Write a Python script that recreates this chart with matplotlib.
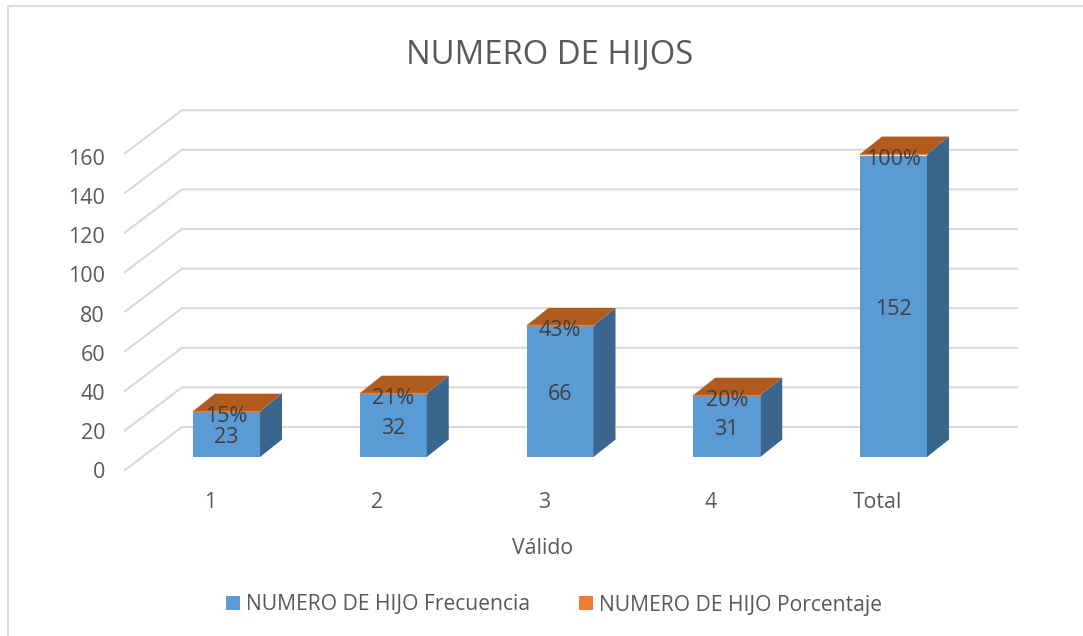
import matplotlib

matplotlib.use("Agg")
import matplotlib.pyplot as plt
from matplotlib.patches import Polygon, Rectangle

categories = ["1", "2", "3", "4", "Total"]
frecuencia = [23, 32, 66, 31, 152]
porcentaje = [0.15, 0.21, 0.43, 0.20, 1.00]
pct_labels = ["15%", "21%", "43%", "20%", "100%"]
y_ticks = [0, 20, 40, 60, 80, 100, 120, 140, 160]

W, H = 1083, 636
X_STEP = 166.75  # px per category
Y_STEP = 1.98  # px per unit
X0, Y0 = 226.5, 457  # px position of category 0, value 0 (bar front)

BLUE = "#5B9BD5"
BLUE_SIDE = "#3A668E"
ORANGE = "#ED7D31"
ORANGE_TOP = "#B25B1F"
GRID = "#D9D9D9"
TEXT = "#595959"
LABEL = "#404040"

plt.rcParams["font.family"] = ["Open Sans", "DejaVu Sans"]

fig = plt.figure(figsize=(W / 100, H / 100), dpi=100)
ax = fig.add_axes([0, 0, 1, 1])
ax.set_xlim((0 - X0) / X_STEP, (W - X0) / X_STEP)
ax.set_ylim((Y0 - H) / Y_STEP, Y0 / Y_STEP)
ax.axis("off")


def dx(px):
    return px / X_STEP


def dy(px):
    return px / Y_STEP


def xpos(px):
    return (px - X0) / X_STEP


# chart frame
ax.plot([xpos(8), xpos(8), xpos(1083)], [dy(Y0 - 636), dy(Y0 - 6), dy(Y0 - 6)],
        color=GRID, lw=1.5, zorder=1)

# walls: each gridline runs from the front edge back then right
for v in y_ticks:
    front_y = v + dy(Y0 - 470)
    back_y = v + dy(Y0 - 427)
    ax.plot([xpos(125), xpos(182), xpos(1017)], [front_y, back_y, back_y],
            color=GRID, lw=1.5, zorder=2, solid_joinstyle="miter")
    # tick labels are spaced a little tighter than the gridlines
    ax.text(xpos(105), dy(Y0 - 473) + v * 0.99, str(v), ha="right", va="center",
            fontsize=15.5, color=TEXT)

half = dx(33.5)
ox, oy = dx(22), dy(17.5)
for i, (f, p) in enumerate(zip(frecuencia, porcentaje)):
    left, right = i - half, i + half
    top = f + p
    ax.add_patch(Rectangle((left, 0), 2 * half, f, fc=BLUE, ec="none", zorder=3))
    ax.add_patch(Polygon([(right, 0), (right + ox, oy), (right + ox, top + oy), (right, top)],
                         fc=BLUE_SIDE, ec="none", zorder=3))
    ax.add_patch(Polygon([(left, top), (left + ox, top + oy), (right + ox, top + oy), (right, top)],
                         fc=ORANGE_TOP, ec="none", zorder=4))
    ax.plot([left, right], [top, top], color=ORANGE, lw=1, zorder=4)
    ax.text(i, f / 2 - dy(3), str(f), ha="center", va="center", fontsize=15.5,
            color=LABEL, zorder=5)
    ax.text(i, top - dy(5), pct_labels[i], ha="center", va="center",
            fontsize=15.5, color=LABEL, zorder=5)
    ax.text(i - dx(16), dy(Y0 - 503), categories[i], ha="center", va="center",
            fontsize=15.3, color=TEXT)

ax.text(xpos(543), dy(Y0 - 549), "Válido", ha="center", va="center", fontsize=15.3, color=TEXT)
ax.text(xpos(550), dy(Y0 - 55), "NUMERO DE HIJOS", ha="center", va="center",
        fontsize=23.6, color=TEXT)

# legend
ax.add_patch(Rectangle((xpos(226), dy(Y0 - 610)), dx(14), dy(14), fc=BLUE, ec="none"))
ax.text(xpos(246), dy(Y0 - 605), "NUMERO DE HIJO Frecuencia", ha="left", va="center",
        fontsize=15.2, color=TEXT)
ax.add_patch(Rectangle((xpos(579), dy(Y0 - 610)), dx(14), dy(14), fc=ORANGE, ec="none"))
ax.text(xpos(599), dy(Y0 - 605), "NUMERO DE HIJO Porcentaje", ha="left", va="center",
        fontsize=15.2, color=TEXT)

fig.savefig("out.png", dpi=100)
